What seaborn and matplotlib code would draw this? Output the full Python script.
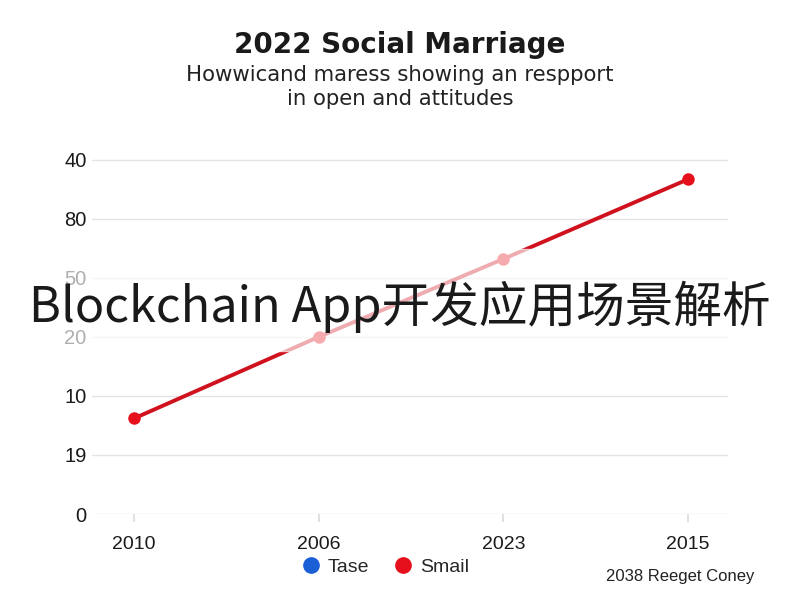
import matplotlib
matplotlib.use("Agg")
import matplotlib.pyplot as plt
from matplotlib.lines import Line2D
import matplotlib.patches as mpatches
import seaborn as sns
import pandas as pd

# data
years = ["2010", "2006", "2023", "2015"]
smail = [1.62, 3.0, 4.32, 5.67]
ytick_labels = ["0", "19", "10", "20", "50", "80", "40"]

sns.set_theme(style="white")
plt.rcParams["font.family"] = ["Liberation Sans", "DejaVu Sans"]

df = pd.DataFrame({"pos": range(len(years)), "value": smail})

fig = plt.figure(figsize=(8, 6), dpi=100)
ax = fig.add_axes([0.115, 0.1433, 0.795, 0.61])

sns.lineplot(data=df, x="pos", y="value", ax=ax, color="#d0111e", linewidth=2.8,
             marker="o", markersize=9, markeredgewidth=0, markerfacecolor="#e6101c")

ax.set_xlim(-0.228, 3.217)
ax.set_ylim(0, 6.2)
ax.set_xticks(range(len(years)))
ax.set_xticklabels(years, fontsize=14, color="#1a1a1a")
ax.set_yticks(range(len(ytick_labels)))
ax.set_yticklabels(ytick_labels, fontsize=14.5, color="#1a1a1a")
ax.set_xlabel("")
ax.set_ylabel("")
ax.grid(axis="y", color="#e4e4e4", linewidth=1)
ax.tick_params(axis="x", length=6, color="#dddddd", pad=10, bottom=True)
ax.tick_params(axis="y", length=0, pad=4)
for s in ax.spines.values():
    s.set_visible(False)

fig.text(0.5, 0.925, "2022 Social Marriage", ha="center", va="center",
         fontsize=20, fontweight="bold", color="#1a1a1a", family="DejaVu Sans")
fig.text(0.5, 0.855, "Howwicand maress showing an respport\nin open and attitudes",
         ha="center", va="center", fontsize=15.3, color="#222222", linespacing=1.2,
         family="DejaVu Sans")

# translucent band with overlay title
fig.patches.append(mpatches.Rectangle((0, 0.415), 1, 0.17, transform=fig.transFigure,
                                      facecolor="white", alpha=0.65, zorder=5))
fig.text(0.5, 0.488, "Blockchain App开发应用场景解析", ha="center", va="center",
         fontsize=35, color="#1a1a1a", zorder=6,
         family=["Noto Sans CJK SC", "DejaVu Sans"])

handles = [Line2D([], [], marker="o", linestyle="", color="#1a5fd6", markersize=11),
           Line2D([], [], marker="o", linestyle="", color="#e6101c", markersize=11)]
fig.legend(handles, ["Tase", "Smail"], loc="center", bbox_to_anchor=(0.48, 0.055),
           ncol=2, frameon=False, fontsize=14, handletextpad=0.3, columnspacing=1.1,
           handlelength=1.2)

fig.text(0.85, 0.04, "2038 Reeget Coney", ha="center", va="center", fontsize=12,
         color="#222222")

fig.savefig("out.png", dpi=100)
